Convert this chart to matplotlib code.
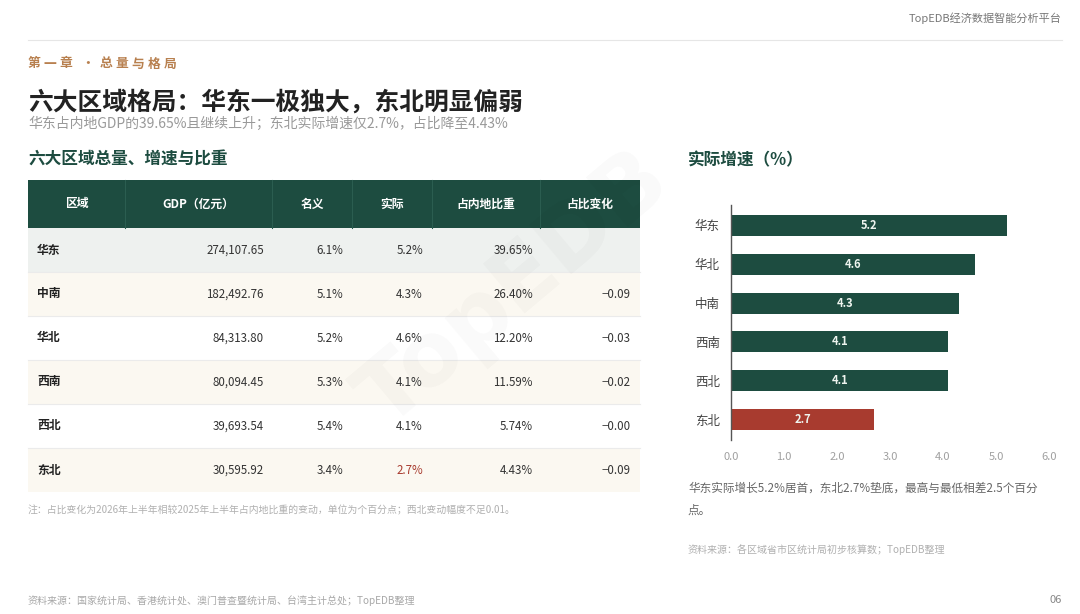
import matplotlib
matplotlib.use("Agg")
import matplotlib.pyplot as plt
from matplotlib.patches import Rectangle

plt.rcParams['font.family'] = ['Noto Sans CJK SC', 'DejaVu Sans']

# ---- data ----
REGIONS = ["华东", "中南", "华北", "西南", "西北", "东北"]
GDP = [274107.65, 182492.76, 84313.80, 80094.45, 39693.54, 30595.92]
NOMINAL = [6.1, 5.1, 5.2, 5.3, 5.4, 3.4]
REAL = [5.2, 4.3, 4.6, 4.1, 4.1, 2.7]
SHARE = [39.65, 26.40, 12.20, 11.59, 5.74, 4.43]
SHARE_CHG = [None, -0.09, -0.03, -0.02, -0.00, -0.09]
HEADERS = ["区域", "GDP（亿元）", "名义", "实际", "占内地比重", "占比变化"]
XTICKS = [0, 1, 2, 3, 4, 5, 6]

GREEN = "#1d4c40"
RED = "#a83b2f"
BROWN = "#b8804f"

W, H = 1080, 614
fig = plt.figure(figsize=(W / 100, H / 100), dpi=100)
bg = fig.add_axes([0, 0, 1, 1])
bg.set_xlim(0, W)
bg.set_ylim(H, 0)
bg.axis("off")

# header
bg.text(1062, 18, "TopEDB经济数据智能分析平台", ha="right", va="center",
        fontsize=8, color="#777777")
bg.plot([28, 1062], [40, 40], color="#e6e6e6", lw=0.8)

# chapter label, letter-spaced
chapter = [("第", 34), ("一", 50), ("章", 66), ("·", 88), ("总", 106),
           ("量", 122), ("与", 138), ("格", 154), ("局", 170)]
for ch, x in chapter:
    bg.text(x, 64, ch, ha="center", va="center", fontsize=9.2, color=BROWN,
            fontweight="bold")

bg.text(28, 102, "六大区域格局：华东一极独大，东北明显偏弱", ha="left",
        va="center", fontsize=17.8, color="#222222", fontweight="bold")
bg.text(28, 124, "华东占内地GDP的39.65%且继续上升；东北实际增速仅2.7%，占比降至4.43%",
        ha="left", va="center", fontsize=10, color="#999999")
bg.text(28, 160, "六大区域总量、增速与比重", ha="left", va="center",
        fontsize=12, color=GREEN, fontweight="bold")

# watermark
bg.text(515, 290, "TopEDB", ha="center", va="center", fontsize=64,
        fontweight="bold", color="#000000", alpha=0.025, rotation=40,
        family="DejaVu Sans", zorder=10)

# ---- table ----
col_edges = [28, 125, 272, 352, 432, 540, 640]
head_top, head_bot = 180, 228
row_h = 44
row_bg = ["#eef1ef", "#fbf8f1", "#ffffff", "#fbf8f1", "#ffffff", "#fbf8f1"]

bg.add_patch(Rectangle((28, head_top), 612, head_bot - head_top,
                       facecolor=GREEN, edgecolor="none"))
for xe in col_edges[1:-1]:
    bg.plot([xe, xe], [head_top, head_bot], color="#2b5d50", lw=0.8)
for i, h in enumerate(HEADERS):
    cx = (col_edges[i] + col_edges[i + 1]) / 2
    bg.text(cx, (head_top + head_bot) / 2, h, ha="center", va="center",
            fontsize=8.5, color="white", fontweight="bold")

for r, reg in enumerate(REGIONS):
    top = head_bot + r * row_h
    bg.add_patch(Rectangle((28, top), 612, row_h, facecolor=row_bg[r],
                           edgecolor="none"))
    if r > 0:
        bg.plot([28, 640], [top, top], color="#ebebeb", lw=0.8)
    cy = top + row_h / 2
    bg.text(37, cy, reg, ha="left", va="center", fontsize=8.5,
            color="#222222", fontweight="bold")
    cells = [f"{GDP[r]:,.2f}", f"{NOMINAL[r]:.1f}%", f"{REAL[r]:.1f}%",
             f"{SHARE[r]:.2f}%",
             "" if SHARE_CHG[r] is None else f"{SHARE_CHG[r]:.2f}".replace("-", "−")]
    rights = [264, 343, 423, 533, 631]
    for j, txt in enumerate(cells):
        color = "#333333"
        if j == 2 and REAL[r] == min(REAL):
            color = RED
        bg.text(rights[j], cy, txt, ha="right", va="center", fontsize=8.3,
                color=color)

bg.text(28, 510, "注：占比变化为2026年上半年相较2025年上半年占内地比重的变动，单位为个百分点；西北变动幅度不足0.01。",
        ha="left", va="center", fontsize=7.1, color="#b0b0b0")
bg.text(28, 601, "资料来源：国家统计局、香港统计处、澳门普查暨统计局、台湾主计总处；TopEDB整理",
        ha="left", va="center", fontsize=7.2, color="#a8a8a8")

# ---- right panel ----
bg.text(688, 160, "实际增速（%）", ha="left", va="center", fontsize=12,
        color=GREEN, fontweight="bold")

order = sorted(range(len(REGIONS)), key=lambda i: -REAL[i])
bar_regions = [REGIONS[i] for i in order]
bar_vals = [REAL[i] for i in order]
bar_colors = [RED if v == min(bar_vals) else GREEN for v in bar_vals]

ax = fig.add_axes([731 / W, 1 - 440 / H, 318 / W, 235 / H])
pos = list(range(len(bar_vals)))
ax.barh(pos, bar_vals, height=0.54, color=bar_colors)
for p, v in zip(pos, bar_vals):
    ax.text(v / 2, p, f"{v:.1f}", ha="center", va="center", fontsize=8,
            color="#eef4ef", fontweight="bold")
ax.set_xlim(0, 6)
ax.set_ylim(5.52, -0.52)
ax.set_yticks(pos)
ax.set_yticklabels(bar_regions, fontsize=9, color="#444444")
ax.set_xticks(XTICKS)
ax.set_xticklabels([f"{t:.1f}" for t in XTICKS], fontsize=8, color="#a0a0a0")
ax.tick_params(axis="both", length=0)
ax.tick_params(axis="x", pad=9)
ax.tick_params(axis="y", pad=8)
for s in ["top", "right", "bottom"]:
    ax.spines[s].set_visible(False)
ax.spines["left"].set_color("#555555")
ax.spines["left"].set_linewidth(1)
ax.patch.set_alpha(0)

bg.text(688, 488, "华东实际增长5.2%居首，东北2.7%垫底，最高与最低相差2.5个百分",
        ha="left", va="center", fontsize=8.4, color="#666666")
bg.text(688, 510, "点。", ha="left", va="center", fontsize=8.4, color="#666666")
bg.text(688, 550, "资料来源：各区域省市区统计局初步核算数；TopEDB整理",
        ha="left", va="center", fontsize=7.2, color="#b0b0b0")
bg.text(1062, 600, "06", ha="right", va="center", fontsize=8, color="#888888")

fig.savefig("out.png", dpi=100)
